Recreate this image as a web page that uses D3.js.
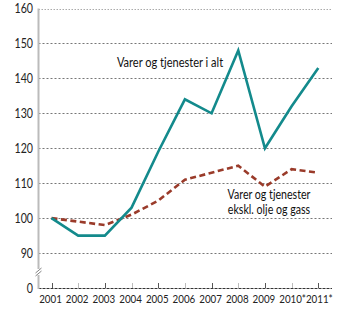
<!DOCTYPE html>
<html><head><meta charset="utf-8">
<script src="https://cdn.jsdelivr.net/npm/d3@7"></script>
<style>body{margin:0;background:#fff}svg{display:block}text{font-family:Lato, "Open Sans", sans-serif}</style>
</head><body><svg id="c" width="350" height="324"></svg>
<script>
const years = ["2001","2002","2003","2004","2005","2006","2007","2008","2009","2010*","2011*"];
const totalValues = [100,95,95,103,119,134,130,148,120,132,143];
const exOilValues = [100,99,98,101,105,111,113,115,109,114,113];
const yTickValues = [90,100,110,120,130,140,150,160];
const yBaseLabel = "0";
const label1 = "Varer og tjenester i alt";
const label2 = ["Varer og tjenester","ekskl. olje og gass"];

(function(){
const svg = d3.select("#c");
const mLeft = 38.5, mRight = 332, mTop = 8.5, mBottom = 288;
const sx = 0.85;
const x = d3.scalePoint().domain(years).range([51.5, 318.3]);
const y = d3.scaleLinear().domain([80,160]).range([mBottom, mTop]);

// gridlines
svg.append("g").selectAll("line").data(yTickValues).join("line")
  .attr("x1", mLeft).attr("x2", mRight)
  .attr("y1", d=>Math.round(y(d))+0.5).attr("y2", d=>Math.round(y(d))+0.5)
  .attr("stroke", d=> d===160 ? "#aaa" : "#777")
  .attr("stroke-width", 1)
  .attr("stroke-dasharray", d=> d===160 ? "1.5,1.5" : "2,2");

// y labels
const yl = svg.append("g").attr("font-size", 12.5).attr("fill","#222").attr("text-anchor","end");
yl.selectAll("text").data(yTickValues).join("text")
  .attr("transform", d=>`translate(33,${y(d)+4.5}) scale(${sx},1)`).text(d=>d);
yl.append("text").attr("transform", `translate(33,${mBottom+4.5}) scale(${sx},1)`).text(yBaseLabel);

// x axis baseline
svg.append("line").attr("x1", mLeft).attr("x2", mRight).attr("y1", mBottom+0.5).attr("y2", mBottom+0.5)
  .attr("stroke","#333").attr("stroke-dasharray","3,1");
// x ticks
svg.append("g").selectAll("line").data(years).join("line")
  .attr("x1", d=>Math.round(x(d))+0.5).attr("x2", d=>Math.round(x(d))+0.5).attr("y1", mBottom-5).attr("y2", mBottom)
  .attr("stroke", (d,i)=> i%2 ? "#bbb" : "#555").attr("stroke-width", 1);
// x labels
svg.append("g").attr("font-size", 11.5).attr("fill","#222").attr("text-anchor","middle")
  .selectAll("text").data(years).join("text")
  .attr("transform", d=>`translate(${x(d) - 1 + (d.endsWith("*")?2:0)},303) scale(${sx},1)`).text(d=>d);

// y axis line
svg.append("line").attr("x1", mLeft).attr("x2", mLeft).attr("y1", mTop).attr("y2", mBottom+1)
  .attr("stroke","#bbb").attr("stroke-width", 2);
// break marks
const bk = svg.append("g").attr("stroke","#666").attr("stroke-width",0.8);
bk.append("rect").attr("x", mLeft-3).attr("y", 269).attr("width", 6).attr("height", 6).attr("fill","#fff").attr("stroke","none");
bk.append("line").attr("x1", mLeft-3).attr("y1", 273).attr("x2", mLeft+3).attr("y2", 268);
bk.append("line").attr("x1", mLeft-3).attr("y1", 276).attr("x2", mLeft+3).attr("y2", 271);

const line = d3.line().x((d,i)=>x(years[i])).y(d=>y(d));
svg.append("path").datum(exOilValues).attr("d", line).attr("fill","none")
  .attr("stroke","#9a3b2a").attr("stroke-width",2.6).attr("stroke-dasharray","6,3.5");
svg.append("path").datum(totalValues).attr("d", line).attr("fill","none")
  .attr("stroke","#138a8c").attr("stroke-width",2.6).attr("stroke-linejoin","miter");

svg.append("text").attr("transform", `translate(170,67) scale(${sx},1)`).attr("text-anchor","middle").attr("font-size",13).attr("fill","#111").text(label1);
const t2 = svg.append("g").attr("font-size",12.5).attr("fill","#111").attr("text-anchor","middle");
t2.append("text").attr("transform", `translate(269,199) scale(${sx},1)`).text(label2[0]);
t2.append("text").attr("transform", `translate(269,213.5) scale(${sx},1)`).text(label2[1]);
})();
</script></body></html>
